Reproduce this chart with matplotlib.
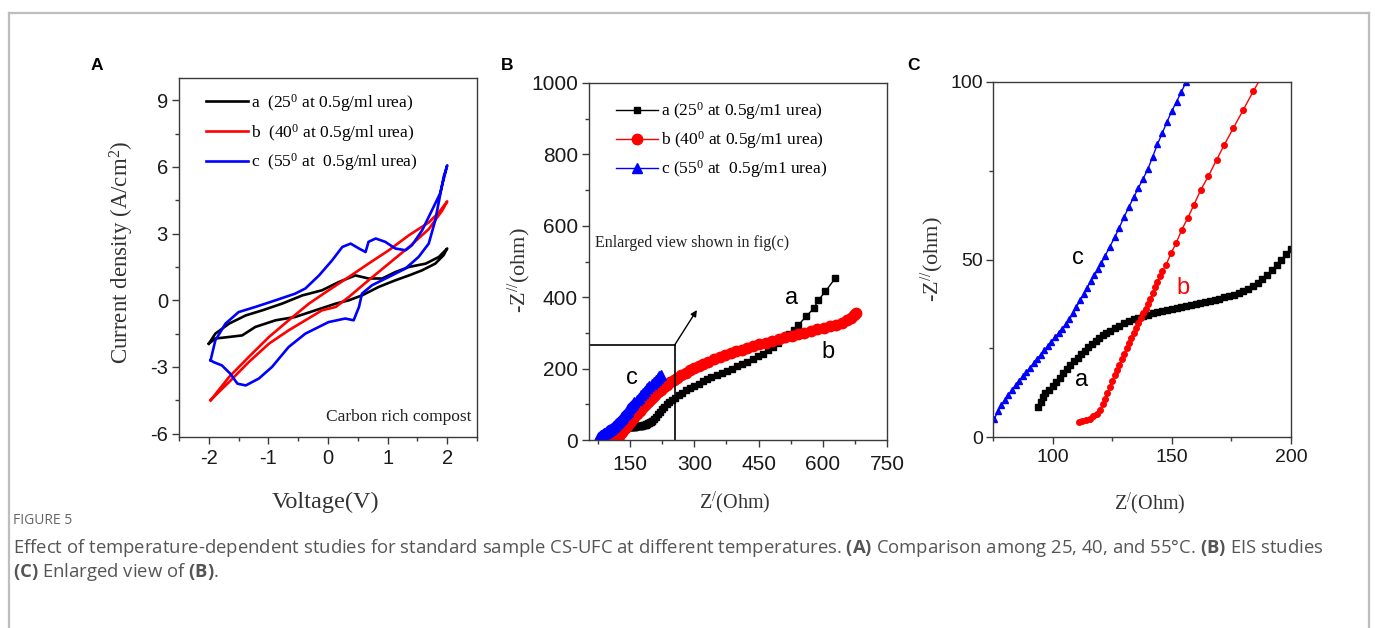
import numpy as np
import matplotlib.pyplot as plt
from matplotlib.ticker import MultipleLocator
from matplotlib.lines import Line2D

plt.rcParams['font.family'] = 'Liberation Sans'
plt.rcParams['axes.unicode_minus'] = False
plt.rcParams['mathtext.fontset'] = 'custom'
plt.rcParams['mathtext.rm'] = 'Liberation Serif'
plt.rcParams['mathtext.it'] = 'Liberation Serif:italic'
plt.rcParams['mathtext.bf'] = 'Open Sans:bold'

# ---- panel A: cyclic voltammetry loops (V, A/cm2) ----
cv_a_v = [-2.0, -1.89, -1.66, -1.38, -1.1, -0.77, -0.43, -0.1, 0.18, 0.46, 0.68, 0.91, 1.13, 1.36, 1.64, 1.86, 2.0,
          1.94, 1.8, 1.58, 1.36, 1.13, 0.85, 0.57, 0.35, 0.13, -0.21, -0.55, -0.88, -1.22, -1.44, -1.66, -1.89, -2.0]
cv_a_j = [-1.95, -1.5, -1.05, -0.68, -0.45, -0.15, 0.22, 0.45, 0.82, 1.12, 0.98, 0.98, 1.27, 1.5, 1.65, 1.95, 2.33,
          2.03, 1.65, 1.35, 1.12, 0.9, 0.6, 0.22, 0.0, -0.15, -0.45, -0.75, -0.9, -1.2, -1.58, -1.65, -1.72, -1.95]

cv_b_v = [-1.97, -1.66, -1.33, -0.99, -0.66, -0.32, 0.01, 0.35, 0.68, 1.02, 1.36, 1.69, 1.86, 2.0,
          1.92, 1.69, 1.36, 1.02, 0.68, 0.35, 0.13, -0.1, -0.38, -0.66, -0.99, -1.33, -1.66, -1.89, -1.97]
cv_b_j = [-4.5, -3.45, -2.55, -1.65, -0.9, -0.15, 0.45, 1.05, 1.65, 2.25, 2.93, 3.5, 3.95, 4.45,
          4.05, 3.2, 2.4, 1.65, 0.9, 0.15, -0.3, -0.45, -0.9, -1.35, -1.95, -2.78, -3.68, -4.28, -4.5]

cv_c_v = [-1.97, -1.89, -1.72, -1.5, -1.22, -0.88, -0.55, -0.38, -0.15, 0.07, 0.24, 0.38, 0.52, 0.63, 0.68, 0.8,
          0.96, 1.13, 1.3, 1.41, 1.58, 1.69, 1.88, 2.0,
          1.94, 1.8, 1.69, 1.52, 1.3, 1.02, 0.74, 0.57, 0.52, 0.43, 0.29, 0.01, -0.38, -0.66, -0.94, -1.16,
          -1.38, -1.52, -1.64, -1.78, -1.92, -1.97]
cv_c_j = [-2.7, -1.8, -1.05, -0.53, -0.3, 0.0, 0.3, 0.53, 1.12, 1.8, 2.4, 2.55, 2.33, 2.17, 2.63, 2.78,
          2.63, 2.33, 2.25, 2.48, 3.15, 3.75, 4.8, 6.07,
          5.55, 3.6, 2.55, 1.95, 1.43, 1.05, 0.68, 0.3, -0.3, -0.9, -0.82, -0.98, -1.5, -2.1, -3.0, -3.52,
          -3.83, -3.75, -3.3, -2.93, -2.78, -2.7]

# ---- panels B and C: Nyquist data (Z', -Z'') in ohm ----
eis_a_re = [94, 95, 96, 97, 98.5, 100, 101.5, 103, 104.5, 106, 107.5, 109, 110.5, 112, 113.5, 115, 116.5, 118,
            119.5, 121, 122.5, 124, 126, 128, 130, 132, 134, 136, 138, 140, 142, 144, 146, 148, 150, 152, 154,
            156, 158, 160, 162, 164, 166, 168, 170, 172, 174, 176, 178, 180, 182, 184, 186, 188, 190, 192, 194,
            196, 198, 200, 202, 205, 210, 215, 220, 225, 230, 236, 242, 249, 256, 264, 272, 280, 290, 300, 310,
            320, 330, 340, 352, 364, 376, 388, 400, 412, 424, 436, 448, 460, 472, 484, 496, 508, 520, 532, 543,
            561, 579, 590, 606, 629]
eis_a_im = [8.5, 10, 11.2, 12.3, 13.3, 14.5, 15.6, 16.7, 17.9, 19.1, 20.2, 21.3, 22.3, 23.3, 24.3, 25.3, 26.2, 27,
            27.8, 28.6, 29.3, 30, 30.7, 31.4, 32, 32.6, 33.1, 33.5, 34, 34.4, 34.8, 35.1, 35.4, 35.8, 36.1, 36.4,
            36.7, 37, 37.3, 37.5, 37.8, 38.1, 38.4, 38.7, 39, 39.3, 39.6, 40, 40.5, 41, 41.6, 42.4, 43.4, 44.5,
            45.7, 47, 48.5, 50, 51.5, 53, 54.5, 58, 65, 72, 79, 86, 93, 100, 106, 112, 118, 125, 132, 139, 146,
            152, 158, 164, 170, 176, 182, 188, 194, 200, 206, 212, 219, 226, 234, 242, 251, 261, 271, 283, 296,
            309, 322, 346, 369, 392, 416, 453]

eis_b_re = [111, 112.5, 114, 115.5, 117, 118.5, 120, 121, 122, 123, 124, 125, 126, 127, 128, 129, 130, 131, 132,
            133, 134, 135, 136, 137, 138, 139, 140, 141, 142, 143, 144, 145, 146, 147.6, 149.7, 151.8, 154.2,
            156.7, 159.3, 162.2, 165.3, 168.8, 172, 175.8, 180, 184.2, 188.5, 193, 198, 203, 209, 215, 222, 229,
            236, 244, 252, 260, 270, 280, 290, 300, 310, 321, 333, 346, 359, 372, 385, 398, 411, 424, 438, 452,
            467, 482, 497, 512, 527, 542, 557, 572, 587, 602, 617, 632, 646, 657, 666, 673, 678]
eis_b_im = [4.3, 4.5, 4.8, 5.2, 5.8, 6.6, 7.7, 9.2, 10.8, 12.5, 14.2, 15.8, 17.4, 19, 20.4, 21.9, 23.4, 25, 26.4,
            27.8, 29.2, 30.6, 32, 33.4, 34.8, 36, 37.4, 38.8, 40.6, 42.2, 43.8, 45.4, 46.8, 48.5, 51.8, 54.6, 58.4,
            61.7, 65.4, 69.7, 73.4, 78.1, 82.3, 87, 92.2, 97.4, 102.5, 108, 114, 120, 127, 134, 141, 148, 155, 162,
            168, 174, 181, 188, 195, 201, 207, 213, 219, 226, 232, 238, 243, 248, 253, 258, 263, 268, 273, 278,
            283, 288, 292, 297, 301, 305, 310, 314, 318, 323, 329, 335, 342, 349, 356]

eis_c_re = [75.5, 77, 78.5, 80, 81.5, 83, 84.5, 86, 87.5, 89, 90.5, 92, 93.5, 95, 96.5, 98, 99.5, 101, 102.5, 104,
            105.5, 107, 108.5, 110, 111.5, 113, 114.5, 116, 117.5, 119, 120.5, 122, 124, 126, 128, 130, 132, 134,
            136, 138, 140, 142, 144, 146, 148, 150, 152, 154, 156, 160, 165, 170, 175, 180, 185, 190, 195, 200,
            205, 210, 214, 218, 222]
eis_c_im = [5, 7.2, 8.9, 10.5, 11.9, 13.3, 14.7, 15.9, 17.1, 18.3, 19.5, 20.8, 22.0, 23.2, 24.4, 25.6, 26.9, 28.1,
            29.3, 30.5, 31.7, 33.1, 34.8, 36.6, 38.5, 40.3, 42.1, 43.9, 45.5, 47.2, 49.0, 51.0, 53.6, 56.2, 59.0,
            62.0, 64.8, 67.5, 70.2, 72.8, 75.5, 79.0, 82.5, 85.6, 88.8, 91.8, 94.5, 97.2, 100.0, 106, 112.5, 119,
            125.5, 132, 138.5, 145, 151, 157, 162.5, 168, 173, 178, 183]

labels = [r'a  (25$^{0}$ at 0.5g/ml urea)', r'b  (40$^{0}$ at 0.5g/ml urea)', r'c  (55$^{0}$ at  0.5g/ml urea)']
colors = ['black', 'red', 'blue']

# zoom box drawn in B
box_re, box_im = 254, 266
arrow_tip = (306, 364)

W, H = 1375, 628
fig = plt.figure(figsize=(W / 100, H / 100), dpi=100)


def ax_at(left, top, right, bottom):
    return fig.add_axes([left / W, 1 - bottom / H, (right - left) / W, (bottom - top) / H])


def style(ax, fs, xpad, ypad):
    for s in ax.spines.values():
        s.set_color('#3a3a3a')
        s.set_linewidth(1.0)
    ax.tick_params(which='both', direction='out', top=False, right=False, colors='#3a3a3a',
                   labelcolor='#1a1a1a', labelsize=fs, width=1.0)
    ax.tick_params(which='major', length=5)
    ax.tick_params(which='minor', length=3)
    ax.tick_params(axis='x', pad=xpad)
    ax.tick_params(axis='y', pad=ypad)


serif = 'Liberation Serif'

# ---------------- A ----------------
axA = ax_at(179, 78, 477, 437)
for v, j, c, lab in zip([cv_a_v, cv_b_v, cv_c_v], [cv_a_j, cv_b_j, cv_c_j], colors, labels):
    axA.plot(v, j, color=c, lw=1.9, label=lab)
axA.set_xlim(-2.5, 2.5)
axA.set_ylim(-6.15, 10)
axA.xaxis.set_major_locator(MultipleLocator(1))
axA.xaxis.set_minor_locator(MultipleLocator(0.5))
axA.yaxis.set_major_locator(MultipleLocator(3))
axA.yaxis.set_minor_locator(MultipleLocator(1.5))
style(axA, 14.5, 4, 3)
axA.set_xlabel('Voltage(V)', family=serif, fontsize=17.5, color='#333333', va='center')
axA.xaxis.set_label_coords(0.492, -0.181)
axA.set_ylabel(r'Current density (A/cm$^{2}$)', family=serif, fontsize=16.5, color='#333333', va='center')
axA.yaxis.set_label_coords(-0.191, 0.515)
axA.text(2.4, -5.25, 'Carbon rich compost', family=serif, fontsize=12.5, ha='right', va='center', color='#222222')
axA.legend(loc='upper left', bbox_to_anchor=(0.05, 0.995), frameon=False, prop={'family': serif, 'size': 12.5},
           handlelength=2.4, handletextpad=0.2, labelspacing=0.45, borderpad=0.2)

# ---------------- B ----------------
axB = ax_at(589, 83, 887, 440)
axB.plot(eis_a_re, eis_a_im, color='black', lw=1.0, marker='s', ms=4.5, mec='black')
axB.plot(eis_b_re, eis_b_im, color='red', lw=1.0, marker='o', ms=7.5, mec='red')
axB.plot(eis_c_re, eis_c_im, color='blue', lw=1.0, marker='^', ms=6.5, mec='blue')
axB.plot([54, box_re], [box_im, box_im], color='black', lw=1.2)
axB.plot([box_re, box_re], [0, box_im], color='black', lw=1.2)
axB.annotate('', xy=arrow_tip, xytext=(box_re, box_im),
             arrowprops=dict(arrowstyle='-|>', color='black', lw=1.0, mutation_scale=9, shrinkA=0, shrinkB=0))
axB.set_xlim(54, 750)
axB.set_ylim(0, 1000)
axB.xaxis.set_major_locator(MultipleLocator(150))
axB.xaxis.set_minor_locator(MultipleLocator(75))
axB.yaxis.set_major_locator(MultipleLocator(200))
axB.yaxis.set_minor_locator(MultipleLocator(100))
style(axB, 15, 5.5, 3)
axB.set_xlabel(r"Z$^{/}$(Ohm)", family=serif, fontsize=14.5, color='#333333', va='center')
axB.xaxis.set_label_coords(0.49, -0.174)
axB.set_ylabel(r"-Z$^{//}$(ohm)", family=serif, fontsize=16, color='#333333', va='center')
axB.yaxis.set_label_coords(-0.232, 0.477)
axB.text(68, 552, 'Enlarged view shown in fig(c)', family=serif, fontsize=11.5, va='center', color='#222222')
axB.text(528, 398, 'a', fontsize=17, ha='center', va='center')
axB.text(613, 247, 'b', fontsize=17, ha='center', va='center')
axB.text(154, 174, 'c', fontsize=17, ha='center', va='center')
handles = [Line2D([], [], color='black', lw=1.0, marker='s', ms=4.5),
           Line2D([], [], color='red', lw=1.0, marker='o', ms=7.5),
           Line2D([], [], color='blue', lw=1.0, marker='^', ms=7.5)]
blabels = [r'a (25$^{0}$ at 0.5g/m1 urea)', r'b (40$^{0}$ at 0.5g/m1 urea)', r'c (55$^{0}$ at  0.5g/m1 urea)']
axB.legend(handles, blabels, loc='upper left', bbox_to_anchor=(0.05, 0.985), frameon=False,
           prop={'family': serif, 'size': 12.5}, handlelength=2.4, handletextpad=0.2, labelspacing=0.4,
           borderpad=0.2)

# ---------------- C ----------------
axC = ax_at(993, 82, 1291, 437)
axC.plot(eis_a_re, eis_a_im, color='black', lw=1.0, marker='s', ms=5, mec='black')
axC.plot(eis_b_re, eis_b_im, color='red', lw=1.0, marker='o', ms=4, mec='red')
axC.plot(eis_c_re, eis_c_im, color='blue', lw=1.0, marker='^', ms=4.5, mec='blue')
axC.set_xlim(75, 200)
axC.set_ylim(0, 100)
axC.xaxis.set_major_locator(MultipleLocator(50))
axC.xaxis.set_minor_locator(MultipleLocator(25))
axC.yaxis.set_major_locator(MultipleLocator(50))
axC.yaxis.set_minor_locator(MultipleLocator(25))
style(axC, 14, 4, 2)
axC.set_xlabel(r"Z$^{/}$(Ohm)", family=serif, fontsize=14.5, color='#333333', va='center')
axC.xaxis.set_label_coords(0.527, -0.186)
axC.set_ylabel(r"-Z$^{//}$(ohm)", family=serif, fontsize=16, color='#333333', va='center')
axC.yaxis.set_label_coords(-0.205, 0.5)
axC.text(110.8, 50.3, 'c', fontsize=17, ha='center', va='center')
axC.text(112.2, 16, 'a', fontsize=17, ha='center', va='center')
axC.text(154.8, 41.9, 'b', fontsize=17, ha='center', va='center', color='red')

# panel letters
for letter, x in zip('ABC', [97, 507, 914]):
    fig.text(x / W, 1 - 65 / H, letter, fontsize=12.5, weight='bold', ha='center', va='center')

# outer frame
frame_kw = dict(transform=fig.transFigure, color='#bdbdbd', lw=1.6)
fig.add_artist(Line2D([8.5 / W, 8.5 / W], [0, 1 - 12.5 / H], **frame_kw))
fig.add_artist(Line2D([8.5 / W, 1368.5 / W], [1 - 12.5 / H, 1 - 12.5 / H], **frame_kw))
fig.add_artist(Line2D([1368.5 / W, 1368.5 / W], [0, 1 - 12.5 / H], **frame_kw))

# caption
fig.text(13 / W, 1 - 521 / H, 'FIGURE 5', family='Open Sans', fontsize=10, color='#666666', va='center')
fig.text(13 / W, 1 - 548 / H,
         r'Effect of temperature-dependent studies for standard sample CS-UFC at different temperatures. '
         r'$\mathbf{(A)}$ Comparison among 25, 40, and 55°C. $\mathbf{(B)}$ EIS studies',
         family='Open Sans', fontsize=13.3, color='#555555', va='center')
fig.text(13 / W, 1 - 572 / H, r'$\mathbf{(C)}$ Enlarged view of $\mathbf{(B)}$.',
         family='Open Sans', fontsize=13.3, color='#555555', va='center')

fig.savefig('out.png', dpi=100)
